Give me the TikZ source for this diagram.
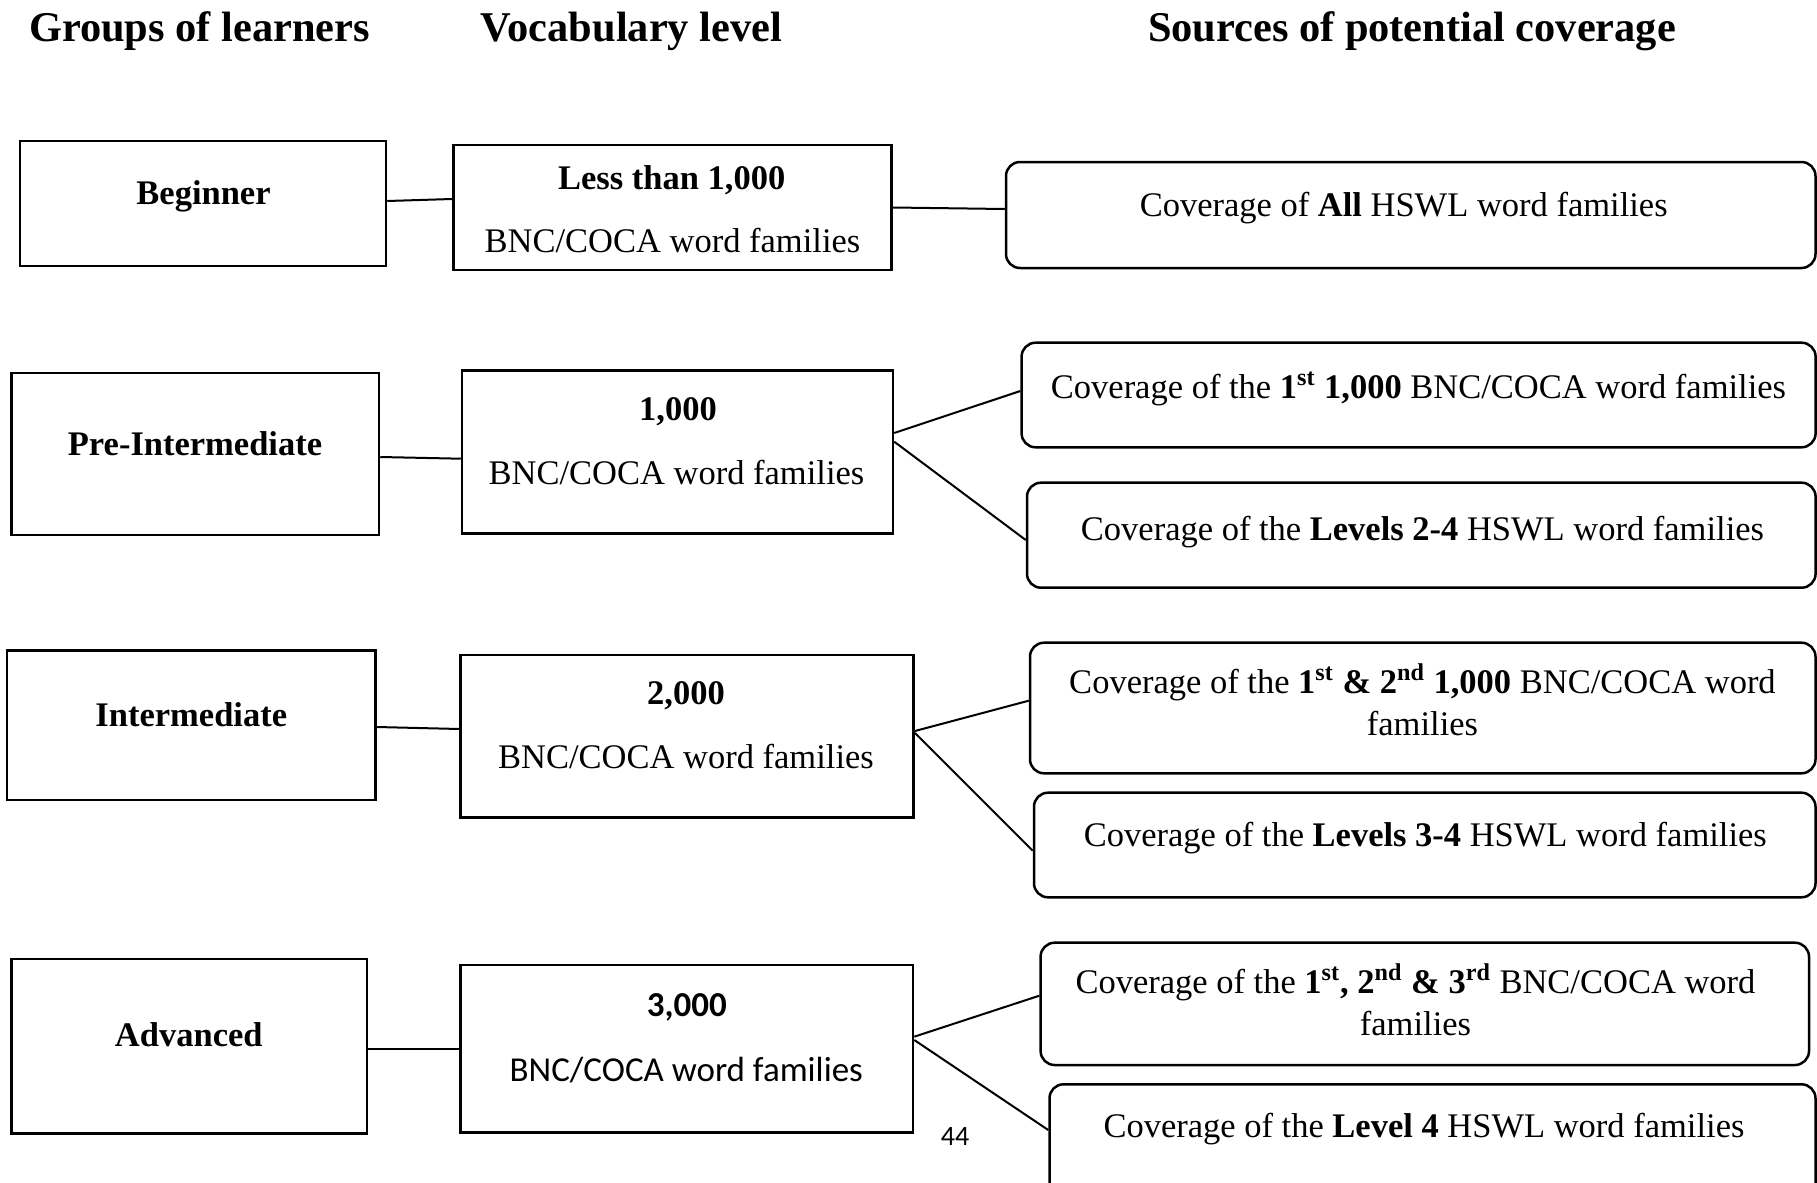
\documentclass[tikz,border=0pt]{standalone}
\usepackage{fontspec}
\setmainfont{Liberation Serif}
\newfontfamily\calibfont{Carlito}
\usetikzlibrary{fit}
\tikzset{
  sqbox/.style={draw, line width=1.25pt, rectangle, inner sep=0pt},
  rbox/.style={draw, line width=1.25pt, rectangle, rounded corners=7pt, inner sep=0pt},
  conn/.style={line width=1pt},
  txt/.style={anchor=base, inner sep=0pt, font=\fontsize{17.25pt}{21pt}\selectfont, align=center},
  txtc/.style={anchor=base, inner sep=0pt, font=\calibfont\fontsize{17.5pt}{18pt}\selectfont},
  ttl/.style={anchor=base, inner sep=0pt, font=\fontsize{21.2pt}{25pt}\selectfont\bfseries},
}
\begin{document}
\begin{tikzpicture}[x=0.5pt,y=-0.5pt]
\useasboundingbox (0,0) rectangle (1817,1183);
\clip (0,0) rectangle (1817,1183);
\fill[white] (0,0) rectangle (1817,1183);

% titles
\node[ttl] (t1) at (199.4,41.7) {Groups of learners};
\node[ttl] (t2) at (631.5,41.7) {Vocabulary level};
\node[ttl] (t3) at (1412,41.7) {Sources of potential coverage};

% boxes
\node[sqbox, fit={(20,141)(386,266)}] (beg) {};
\node[sqbox, fit={(453.5,145)(891.5,270)}] (v1) {};
\node[rbox, fit={(1006,162)(1815.5,268)}] (c1) {};

\node[sqbox, fit={(11.7,373)(379,535)}] (pre) {};
\node[sqbox, fit={(462,370.7)(893,533.3)}] (v2) {};
\node[rbox, fit={(1021.6,342.7)(1815.6,447.3)}] (c2a) {};
\node[rbox, fit={(1027,482.7)(1815.6,587.7)}] (c2b) {};

\node[sqbox, fit={(7,650.7)(375.6,800)}] (int) {};
\node[sqbox, fit={(460.7,655)(913.7,817.3)}] (v3) {};
\node[rbox, fit={(1030,642.7)(1815.5,773.3)}] (c3a) {};
\node[rbox, fit={(1034,792.7)(1815.5,897.3)}] (c3b) {};

\node[sqbox, fit={(11.5,959)(367,1133.3)}] (adv) {};
\node[sqbox, fit={(460.5,965)(913,1132.7)}] (v4) {};
\node[rbox, fit={(1040.6,942.7)(1809,1065)}] (c4a) {};
\node[rbox, fit={(1049.5,1084.3)(1815.5,1210)}] (c4b) {};

% texts
\node[txt] (beg-t) at (203.5,204) {\bfseries Beginner};
\node[txt] (v1-a) at (671.7,189) {\bfseries Less than 1,000};
\node[txt] (v1-b) at (672.5,252) {BNC/COCA word families};
\node[txt] (c1-t) at (1403.7,216.7) {Coverage of \textbf{All} HSWL word families};

\node[txt] (pre-t) at (195,455) {\bfseries Pre-Intermediate};
\node[txt] (v2-a) at (678,420.7) {\bfseries 1,000};
\node[txt] (v2-b) at (676.5,484) {BNC/COCA word families};
\node[txt] (c2a-t) at (1418.5,398.3) {Coverage of the \textbf{1\textsuperscript{st} 1,000} BNC/COCA word families};
\node[txt] (c2b-t) at (1422.5,540) {Coverage of the \textbf{Levels 2-4} HSWL word families};

\node[txt] (int-t) at (191.3,726.7) {\bfseries Intermediate};
\node[txt] (v3-a) at (686,704) {\bfseries 2,000};
\node[txt] (v3-b) at (686,768.3) {BNC/COCA word families};
\node[txt] (c3a-t) at (1422.5,735.3) {Coverage of the \textbf{1\textsuperscript{st} \& 2\textsuperscript{nd} 1,000} BNC/COCA word\\families};
\node[txt] (c3b-t) at (1425.3,846.7) {Coverage of the \textbf{Levels 3-4} HSWL word families};

\node[txt] (adv-t) at (188.8,1046.7) {\bfseries Advanced};
\node[txtc] (v4-a) at (686.8,1016) {\bfseries 3,000};
\node[txtc] (v4-b) at (686.3,1081.7) {BNC/COCA word families};
\node[txt] (c4a-t) at (1415.5,1035.3) {Coverage of the \textbf{1\textsuperscript{st}, 2\textsuperscript{nd} \& 3\textsuperscript{rd}} BNC/COCA word\\families};
\node[txt] (c4b-t) at (1424,1137.7) {Coverage of the \textbf{Level 4} HSWL word families};

\node[anchor=base, inner sep=0pt, font=\calibfont\fontsize{14pt}{16pt}\selectfont] (pg) at (955,1145) {44};

% connectors
\draw[conn] (beg.east |- 0,201) -- (v1.west |- 0,199);
\draw[conn] (v1.east |- 0,207.5) -- (c1.west |- 0,209);

\draw[conn] (pre.east |- 0,457) -- (v2.west |- 0,458.7);
\draw[conn] (v2.east |- 0,433) -- (c2a.west |- 0,391);
\draw[conn] (v2.east |- 0,441.7) -- (c2b.west |- 0,540);

\draw[conn] (int.east |- 0,727) -- (v3.west |- 0,729);
\draw[conn] (v3.east |- 0,731) -- (c3a.west |- 0,700.7);
\draw[conn] (v3.east |- 0,733) -- (c3b.west |- 0,850.7);

\draw[conn] (adv.east |- 0,1049) -- (v4.west |- 0,1049);
\draw[conn] (v4.east |- 0,1036.7) -- (c4a.west |- 0,995.7);
\draw[conn] (v4.east |- 0,1040) -- (c4b.west |- 0,1130);
\end{tikzpicture}
\end{document}
